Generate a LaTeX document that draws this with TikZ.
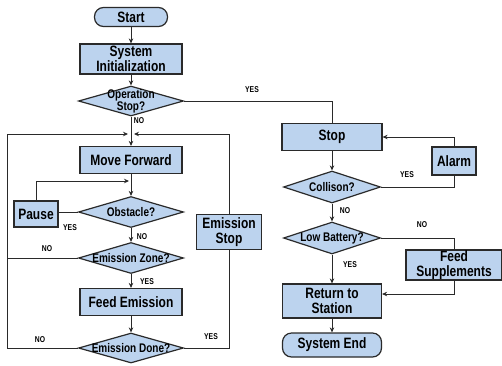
\documentclass[tikz,border=0pt]{standalone}
\usepackage{fontspec}
\setmainfont{Liberation Sans}[FakeStretch=0.8]
\usetikzlibrary{shapes.geometric,arrows.meta}
\definecolor{boxfill}{HTML}{BCD3EE}
\definecolor{lin}{HTML}{2A2A2A}
\begin{document}
\begin{tikzpicture}[x=1pt,y=-1pt,
  box/.style={draw=lin,line width=1.2pt,fill=boxfill,inner sep=0pt,align=center,font=\bfseries\fontsize{15}{14.5}\selectfont},
  term/.style={box,rounded corners=9pt},
  dia/.style={draw=lin,line width=1.2pt,fill=boxfill,shape=diamond,inner sep=0pt},
  dtext/.style={align=center,font=\bfseries\fontsize{12.5}{12}\selectfont},
  lab/.style={font=\bfseries\fontsize{8.5}{9}\selectfont},
  conn/.style={draw=lin,line width=0.9pt},
  arr/.style={conn,-{Stealth[length=5pt,width=4.5pt]}}]
\useasboundingbox (0,0) rectangle (502,365);
% left column
\node[term,minimum width=73pt,minimum height=19pt] (start) at (131,17) {Start};
\node[box,minimum width=102pt,minimum height=30pt] (init) at (131,59) {System\\Initialization};
\node[dia,minimum width=105pt,minimum height=30pt] (od) at (131,101) {};
\node[dtext] (odt) at (131,101) {Operation\\Stop?};
\node[box,minimum width=102pt,minimum height=27pt] (mf) at (131,160) {Move Forward};
\node[dia,minimum width=105pt,minimum height=31pt] (obs) at (131,212) {};
\node[dtext] (obst) at (131,212) {Obstacle?};
\node[box,minimum width=44pt,minimum height=26pt] (pause) at (36,214) {Pause};
\node[dia,minimum width=105pt,minimum height=31pt] (ez) at (131,258) {};
\node[dtext] (ezt) at (131,258) {Emission Zone?};
\node[box,minimum width=102pt,minimum height=27pt] (fe) at (131,302) {Feed Emission};
\node[dia,minimum width=105pt,minimum height=30pt] (ed) at (131,348) {};
\node[dtext] (edt) at (131,348) {Emission Done?};
\node[box,minimum width=65pt,minimum height=35pt] (es) at (229,232) {Emission\\Stop};
% right column
\node[box,minimum width=100pt,minimum height=27pt] (stop) at (332,137) {Stop};
\node[dia,minimum width=97pt,minimum height=32pt] (col) at (332,187) {};
\node[dtext] (colt) at (332,187) {Collison?};
\node[box,minimum width=44pt,minimum height=28pt] (alarm) at (454,161) {Alarm};
\node[dia,minimum width=97pt,minimum height=32pt] (lb) at (332,238) {};
\node[dtext] (lbt) at (332,238) {Low Battery?};
\node[box,minimum width=96pt,minimum height=30pt] (fs) at (454,265) {Feed\\Supplements};
\node[box,minimum width=99pt,minimum height=34pt] (rts) at (332,301) {Return to\\Station};
\node[term,minimum width=99pt,minimum height=24pt] (se) at (332,345) {System End};
% junction coordinates
\coordinate (jl) at (128,134);
\coordinate (jr) at (134,134);
\coordinate (jp) at (129,181);
\coordinate (ll) at (7,134);
\coordinate (rr) at (229,134);
\coordinate (fsr) at (454,294);
% connectors
\draw[arr] (start) -- (init);
\draw[arr] (init) -- (od.north);
\draw[arr] (od.south) -- (mf);
\draw[conn] (od.east) -| (stop.north);
\draw[arr] (mf) -- (obs.north);
\draw[conn] (obs.west) -- (pause.east |- obs.west);
\draw[arr] (pause.north) |- (jp);
\draw[arr] (obs.south) -- (ez.north);
\draw[conn] (ez.west) -- (ll |- ez.west);
\draw[arr] (ez.south) -- (fe);
\draw[arr] (fe) -- (ed.north);
\draw[arr] (ed.west) -| (ll) -- (jl);
\draw[conn] (ed.east) -| (es.south);
\draw[arr] (es.north) -- (rr) -- (jr);
\draw[arr] (stop) -- (col.north);
\draw[conn] (col.east) -| (alarm.south);
\draw[arr] (alarm.north) |- (stop.east);
\draw[arr] (col.south) -- (lb.north);
\draw[conn] (lb.east) -| (fs.north);
\draw[arr] (fs.south) -- (fsr) -- (rts.east |- fsr);
\draw[arr] (lb.south) -- (rts);
\draw[arr] (rts) -- (se);
% labels
\node[lab] (l1) at (139,121) {NO};
\node[lab] (l2) at (142,237) {NO};
\node[lab] (l3) at (70,228) {YES};
\node[lab] (l4) at (47,249) {NO};
\node[lab] (l5) at (147,282) {YES};
\node[lab] (l6) at (40,340) {NO};
\node[lab] (l7) at (211,337) {YES};
\node[lab] (l8) at (252,90) {YES};
\node[lab] (l9) at (407,175) {YES};
\node[lab] (l10) at (345,211) {NO};
\node[lab] (l11) at (422,225) {NO};
\node[lab] (l12) at (350,265) {YES};
\end{tikzpicture}
\end{document}
